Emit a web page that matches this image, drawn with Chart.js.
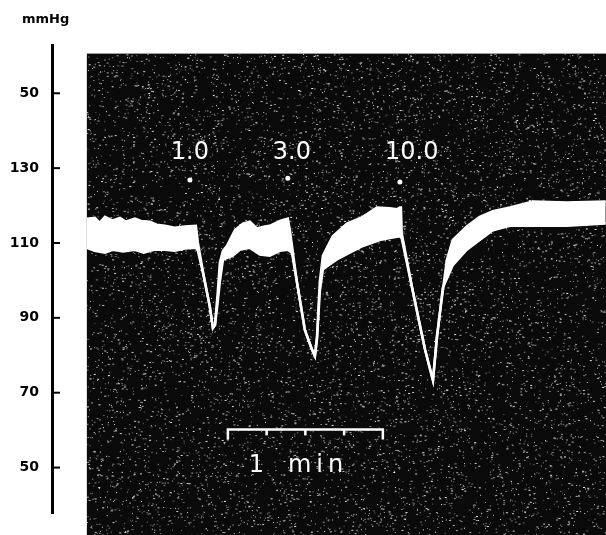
<!DOCTYPE html>
<html>
<head>
<meta charset="utf-8">
<script src="https://cdn.jsdelivr.net/npm/chart.js@4/dist/chart.umd.min.js"></script>
<style>
  html, body { margin: 0; padding: 0; background: #fff; }
  #wrap { width: 606px; height: 535px; position: relative; }
</style>
</head>
<body>
<div id="wrap"><canvas id="trace"></canvas></div>
<script>
// time in seconds, pressure in mmHg
const upperT = [0, 3.1, 5, 7.0, 10, 12.8, 15, 18.6, 21, 24.4, 27, 30.2, 34, 37.9, 42.2,
  43.0, 45.3, 47.6, 48.8, 49.6, 50.7, 51.5, 52.7, 54.2, 57.3, 60.4, 63.1, 65.8, 68.9, 70.8, 74.7, 77.8,
  78.6, 81.3, 84.4, 87.1, 88.3, 89.1, 90.2, 91.4, 95.2, 100.7, 106.9, 112.3, 117.3, 120.0, 121.2, 121.6,
  121.9, 126.2, 130.9, 134.0, 135.5, 137.8, 139.4, 141.7, 147.1, 152.1, 157.2, 163.8, 172.7, 185.8, 200.9];
const upperP = [116.5, 116.7, 115.4, 117.0, 116.0, 116.7, 115.7, 116.5, 115.9, 115.7, 114.9, 114.6, 114.1, 114.4, 114.6,
  110.0, 101.0, 93.0, 87.3, 88.1, 97.1, 104.8, 107.9, 109.2, 113.4, 115.2, 115.7, 113.9, 114.4, 114.6, 115.9, 116.5,
  113.4, 99.7, 86.8, 81.6, 79.8, 85.0, 99.7, 106.6, 111.8, 115.2, 117.0, 119.5, 119.3, 119.0, 119.5, 119.5,
  112.6, 97.1, 81.6, 73.3, 85.0, 97.1, 105.6, 110.8, 114.4, 117.0, 118.5, 119.5, 121.1, 120.8, 121.1];

const lowerT = [0, 3, 7.0, 10, 14, 18.6, 22, 26, 30.2, 34, 37.9, 42.2,
  43.0, 45.3, 47.6, 48.8, 49.6, 50.7, 51.5, 52.7, 56.5, 59.2, 63.1, 67.0, 70.8, 74.7, 77.8,
  79.4, 81.3, 84.4, 87.1, 88.3, 89.1, 90.2, 91.4, 96.8, 101.8, 106.9, 113.4, 117.3, 121.2,
  121.9, 126.2, 130.9, 134.0, 135.5, 137.8, 141.7, 147.1, 152.1, 157.2, 163.8, 172.7, 185.8, 200.9];
const lowerP = [108.7, 107.9, 107.4, 108.2, 107.7, 108.2, 107.4, 108.2, 108.2, 107.9, 108.5, 108.7,
  107.9, 101.0, 93.0, 87.3, 88.1, 94.5, 99.7, 105.6, 106.6, 108.2, 108.7, 106.9, 106.6, 107.9, 108.2,
  107.4, 99.7, 86.8, 81.6, 79.8, 84.2, 97.1, 103.0, 105.6, 107.4, 109.2, 110.8, 111.3, 111.8,
  111.3, 97.1, 81.6, 73.3, 84.2, 98.0, 104.1, 108.2, 110.8, 113.4, 114.6, 114.6, 114.6, 115.2];

const tickValues = [150, 130, 110, 90, 70, 50];
const tickLabels = ['50', '130', '110', '90', '70', '50'];

const doseLabels = ['1.0', '3.0', '10.0'];
const doseLabelT = [39.9, 79.4, 125.8];
const doseDotT = [39.9, 77.8, 121.2];
const doseDotP = [126.8, 127.3, 126.3];

// 1 min scale bar, ticks every 15 s
const barTicks = [54.6, 69.6, 84.6, 99.6, 114.6];

const toPoints = (ts, ps) => ts.map((t, i) => ({ x: t, y: ps[i] }));

// dark photographic panel + annotations
const recording = {
  id: 'recording',
  beforeDatasetsDraw(chart) {
    const { ctx, scales: { x, y } } = chart;
    const left = x.getPixelForValue(0);
    const top = y.getPixelForValue(160.6);
    ctx.save();
    ctx.fillStyle = '#0a0a0a';
    ctx.fillRect(left, top, chart.width - left, chart.height - top);
    // film grain
    let seed = 7;
    const rnd = () => { seed = (seed * 16807) % 2147483647; return seed / 2147483647; };
    for (let i = 0; i < 9000; i++) {
      const px = left + rnd() * (chart.width - left);
      const py = top + rnd() * (chart.height - top);
      const g = 100 + Math.floor(rnd() * 140);
      ctx.fillStyle = `rgb(${g},${g},${g})`;
      ctx.fillRect(px, py, rnd() < 0.3 ? 2 : 1, 1);
    }
    ctx.restore();
  },
  afterDatasetsDraw(chart) {
    const { ctx, scales: { x, y } } = chart;
    ctx.save();
    // inward tick marks on the axis
    ctx.strokeStyle = '#000';
    ctx.lineWidth = 2;
    tickValues.forEach(v => {
      const py = y.getPixelForValue(v);
      ctx.beginPath();
      ctx.moveTo(x.left, py);
      ctx.lineTo(x.left + 8, py);
      ctx.stroke();
    });

    // dose labels and injection dots
    ctx.fillStyle = '#fff';
    ctx.font = '24px "DejaVu Sans"';
    ctx.textAlign = 'center';
    ctx.textBaseline = 'middle';
    doseLabels.forEach((lab, i) => {
      ctx.fillText(lab, x.getPixelForValue(doseLabelT[i]), y.getPixelForValue(134));
      ctx.beginPath();
      ctx.arc(x.getPixelForValue(doseDotT[i]), y.getPixelForValue(doseDotP[i]), 2.5, 0, Math.PI * 2);
      ctx.fill();
    });

    // time scale bar
    ctx.strokeStyle = '#fff';
    ctx.lineWidth = 2.5;
    const by = y.getPixelForValue(60.2);
    const bx0 = x.getPixelForValue(barTicks[0]);
    const bx1 = x.getPixelForValue(barTicks[barTicks.length - 1]);
    ctx.beginPath();
    ctx.moveTo(bx0, by + 10);
    ctx.lineTo(bx0, by);
    ctx.lineTo(bx1, by);
    ctx.lineTo(bx1, by + 10);
    ctx.stroke();
    barTicks.slice(1, -1).forEach(t => {
      const px = x.getPixelForValue(t);
      ctx.beginPath();
      ctx.moveTo(px, by);
      ctx.lineTo(px, by + 6);
      ctx.stroke();
    });
    ctx.fillText('1', x.getPixelForValue(65.6), y.getPixelForValue(50.6));
    ctx.letterSpacing = '5px';
    ctx.fillText('min', x.getPixelForValue(89.5), y.getPixelForValue(50.6));
    ctx.letterSpacing = '0px';

    // unit
    ctx.fillStyle = '#000';
    ctx.font = 'bold 13px "DejaVu Sans"';
    ctx.textAlign = 'left';
    ctx.fillText('mmHg', 22, 20);
    ctx.restore();
  }
};

new Chart(document.getElementById('trace'), {
  type: 'line',
  data: {
    datasets: [
      {
        data: toPoints(upperT, upperP),
        borderColor: '#fff',
        borderWidth: 2.5,
        pointRadius: 0,
        tension: 0,
        fill: false
      },
      {
        data: toPoints(lowerT, lowerP),
        borderColor: '#fff',
        borderWidth: 2.5,
        backgroundColor: '#fff',
        pointRadius: 0,
        tension: 0,
        fill: '-1'
      }
    ]
  },
  options: {
    responsive: true,
    maintainAspectRatio: false,
    animation: false,
    layout: { padding: { top: 45, bottom: 5, left: 0, right: 0 } },
    plugins: { legend: { display: false }, tooltip: { enabled: false }, title: { display: false } },
    scales: {
      x: { type: 'linear', min: -13.5, max: 201, display: false },
      y: {
        type: 'linear',
        min: 37.7,
        max: 162.9,
        afterBuildTicks: s => { s.ticks = tickValues.map(v => ({ value: v })); },
        afterFit: s => { s.width = 52; },
        ticks: {
          callback: (v, i) => tickLabels[i],
          color: '#000',
          font: { family: 'DejaVu Sans', weight: 'bold', size: 14 },
          padding: 13
        },
        grid: { display: false, drawTicks: false },
        border: { display: true, color: '#000', width: 3 }
      }
    }
  },
  plugins: [recording]
});
</script>
</body>
</html>
